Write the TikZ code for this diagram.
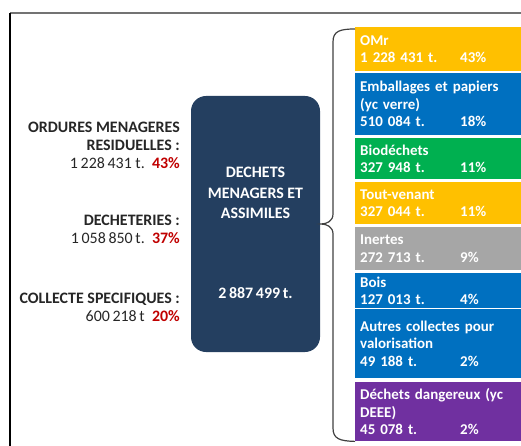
\documentclass[tikz,border=0pt]{standalone}
\usepackage{fontspec}
\setmainfont{Carlito}[BoldFont={Carlito Bold}]
\definecolor{navy}{RGB}{36,63,96}
\definecolor{wyellow}{RGB}{255,192,0}
\definecolor{wblue}{RGB}{0,112,192}
\definecolor{wgreen}{RGB}{0,176,80}
\definecolor{wgray}{RGB}{166,166,166}
\definecolor{wpurple}{RGB}{112,48,160}
\definecolor{pctred}{RGB}{192,0,0}
\definecolor{labeltext}{RGB}{38,38,38}
\newcommand{\amount}[2]{\makebox[100bp][l]{#1}#2}
\begin{document}
\begin{tikzpicture}[x=1bp,y=-1bp,
  frameline/.style={line width=1.3bp},
  leftlabel/.style={anchor=east, align=right, inner sep=0pt, text=labeltext,
    font=\fontsize{16}{18}\selectfont},
  total/.style={draw=none, fill=navy, rounded corners=15bp, minimum width=129bp,
    minimum height=256bp, inner sep=0pt},
  centertext/.style={align=center, inner sep=0pt, text=white,
    font=\fontsize{16}{20.5}\selectfont\bfseries},
  rbox/.style={anchor=north west, minimum width=166bp, text width=156bp,
    inner xsep=5bp, inner ysep=0pt, align=left, text=white,
    font=\fontsize{15}{17.5}\selectfont\bfseries},
  bracestyle/.style={draw=black!75, line width=1.2bp}
]
\useasboundingbox (0,0) rectangle (521,446);

% outer frame
\draw[frameline, black!55] (10,13) -- (521,13);
\draw[frameline] (10,13) -- (10,446);

% total household waste
\node[total] (dma) at (255.5,224) {};
\node[centertext] (dmatitle) at (255.5,193) {DECHETS\\MENAGERS ET\\ASSIMILES};
\node[centertext] (dmatotal) at (255.5,293) {2\,887\,499\,t.};

% collection channels
\node[leftlabel] (omrlabel) at (180,145)
  {\textbf{ORDURES MENAGERES}\\\textbf{RESIDUELLES :}\\
   1\,228\,431 t.~~\textcolor{pctred}{\textbf{43\%}}};
\node[leftlabel] (decheterie) at (180,229)
  {\textbf{DECHETERIES :}\\1\,058\,850\,t.~~\textcolor{pctred}{\textbf{37\%}}};
\node[leftlabel] (collecte) at (180,307)
  {\textbf{COLLECTE SPECIFIQUES :}\\600\,218\,t~~\textcolor{pctred}{\textbf{20\%}}};

% breakdown by waste stream
\node[rbox, fill=wyellow, minimum height=44bp] (omr) at (355,27)
  {OMr\\\amount{1 228 431 t.}{43\%}};
\node[rbox, fill=wblue, minimum height=62bp] (emb) at (355,73)
  {Emballages et papiers\\(yc verre)\\\amount{510 084 t.}{18\%}};
\node[rbox, fill=wgreen, minimum height=41bp] (bio) at (355,138)
  {Biodéchets\\\amount{327 948 t.}{11\%}};
\node[rbox, fill=wyellow, minimum height=42bp] (tv) at (355,182)
  {Tout-venant\\\amount{327 044 t.}{11\%}};
\node[rbox, fill=wgray, minimum height=43bp] (inertes) at (355,227)
  {Inertes\\\amount{272 713 t.}{9\%}};
\node[rbox, fill=wblue, minimum height=35bp] (bois) at (355,273)
  {Bois\\\amount{127 013 t.}{4\%}};
\node[rbox, fill=wblue, minimum height=69bp] (autres) at (355,309)
  {Autres collectes pour\\valorisation\\\amount{49 188 t.}{2\%}};
\node[rbox, fill=wpurple, minimum height=59bp] (dd) at (355,382)
  {Déchets dangereux (yc\\DEEE)\\\amount{45 078 t.}{2\%}};

% brace grouping the waste streams
\coordinate (bracetop) at ([yshift=-2bp]omr.north west);
\coordinate (bracebot) at (dd.south west);
\coordinate (bracetip) at (321,224);
\draw[bracestyle] (bracetop)
  .. controls (340,29) and (333,31) .. (333,42) -- (333,214)
  .. controls (333,221) and (327,224) .. (bracetip)
  .. controls (327,224) and (333,227) .. (333,234) -- (333,428)
  .. controls (333,439) and (340,441) .. (bracebot);
\end{tikzpicture}
\end{document}
